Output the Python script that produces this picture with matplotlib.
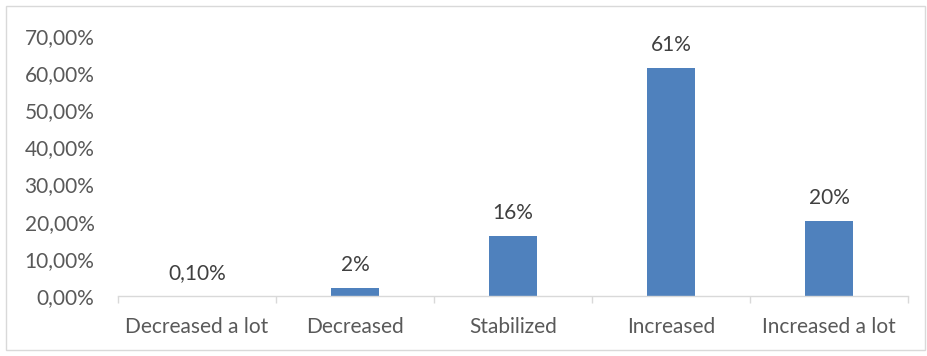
import matplotlib
matplotlib.use("Agg")
import matplotlib.pyplot as plt
from matplotlib.patches import Rectangle
import numpy as np

categories = ["Decreased a lot", "Decreased", "Stabilized", "Increased", "Increased a lot"]
values = [0.001, 0.021, 0.162, 0.615, 0.203]
value_labels = ["0,10%", "2%", "16%", "61%", "20%"]
yticks = [0.0, 0.1, 0.2, 0.3, 0.4, 0.5, 0.6, 0.7]

txt = "#595959"
grey = "#D9D9D9"
fs = 15
plt.rcParams["font.family"] = ["Lato", "DejaVu Sans"]

fig = plt.figure(figsize=(9.28, 3.56), dpi=100)
ax = fig.add_axes([118 / 928, 1 - 296 / 356, 790 / 928, 260 / 356])

x = np.arange(len(categories))
bars = ax.bar(x, values, width=0.31, color="#4F81BD")
for b, lab in zip(bars, value_labels):
    ax.annotate(lab, (b.get_x() + b.get_width() / 2, b.get_height()),
                xytext=(0, 16.5), textcoords="offset points",
                ha="center", va="center", fontsize=fs, color="#404040")

ax.set_xlim(-0.5, len(categories) - 0.5)
ax.set_ylim(0, 0.7)
ax.set_yticks(yticks)
ax.set_yticklabels([f"{v*100:.2f}%".replace(".", ",") for v in yticks])
ax.set_xticks(x)
ax.set_xticklabels(categories)
ax.set_xticks(np.arange(-0.5, len(categories)), minor=True)
ax.tick_params(axis="x", which="major", length=0, pad=15, labelsize=fs, labelcolor=txt)
ax.tick_params(axis="x", which="minor", length=5, color=grey, width=1)
ax.tick_params(axis="y", length=0, pad=17, labelsize=fs, labelcolor=txt)

for s in ["top", "right", "left"]:
    ax.spines[s].set_visible(False)
ax.spines["bottom"].set_color(grey)
ax.spines["bottom"].set_linewidth(1)

fig.patches.append(Rectangle((6 / 928, 6 / 356), 919 / 928, 344 / 356,
                             transform=fig.transFigure, fill=False,
                             edgecolor=grey, linewidth=1))

fig.savefig("out.png", dpi=100)
